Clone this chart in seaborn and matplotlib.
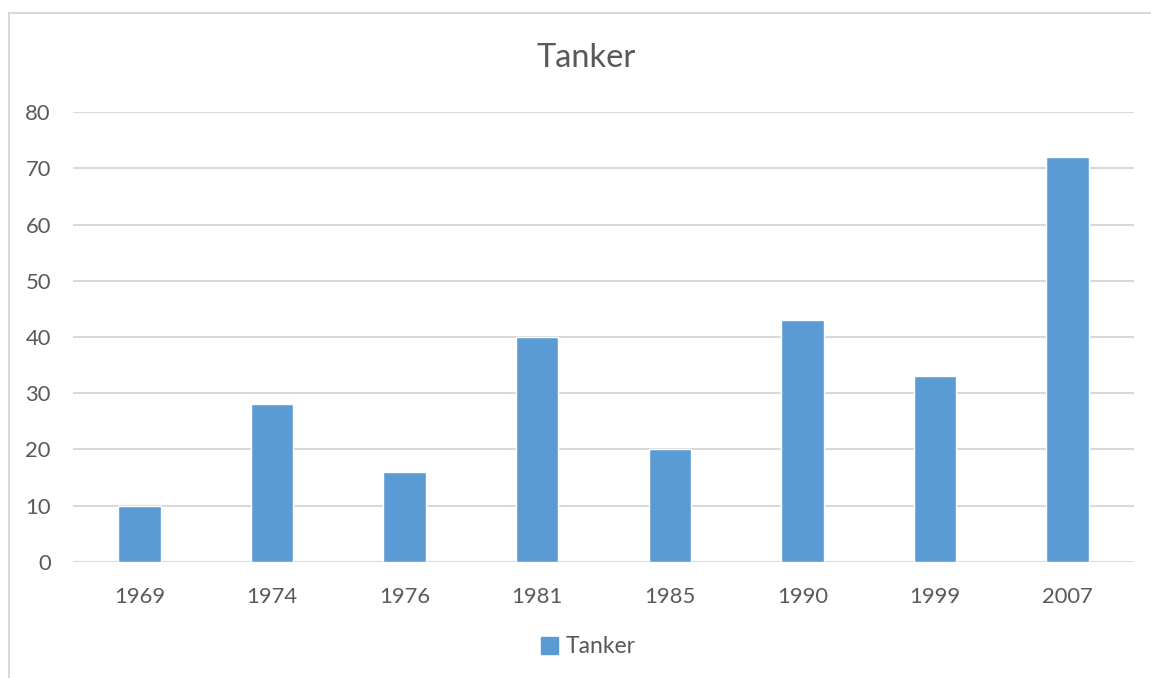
import pandas as pd
import matplotlib.pyplot as plt
import seaborn as sns
from matplotlib.patches import Rectangle, Patch

years = ['1969', '1974', '1976', '1981', '1985', '1990', '1999', '2007']
tanker = [10, 28, 16, 40, 20, 43, 33, 72]

df = pd.DataFrame({'Year': years, 'Tanker': tanker})

sns.set_style('white')
plt.rcParams['font.family'] = ['Lato', 'DejaVu Sans']
text_col = '#595959'
bar_col = '#5B9BD5'
grid_col = '#D9D9D9'

fig = plt.figure(figsize=(11.51, 6.78), dpi=100)
ax = fig.add_axes([0.0634, 0.1711, 0.9218, 0.6637])

sns.barplot(data=df, x='Year', y='Tanker', color=bar_col, saturation=1,
            width=0.32, ax=ax, zorder=3)

ax.set_ylim(0, 80)
ax.set_yticks(range(0, 81, 10))
ax.set_xlim(-0.5, len(years) - 0.5)
ax.yaxis.grid(True, color=grid_col, linewidth=1.5, zorder=0)
ax.set_axisbelow(True)
for s in ax.spines.values():
    s.set_visible(False)
ax.set_xlabel('')
ax.set_ylabel('')
ax.tick_params(axis='both', length=0, labelsize=15.8, labelcolor=text_col)
ax.tick_params(axis='y', pad=16)
ax.tick_params(axis='x', pad=18)

fig.text(0.509, 0.914, 'Tanker', ha='center', va='center', fontsize=23.5, color=text_col)

fig.legend(handles=[Patch(color=bar_col, label='Tanker')], loc='center',
           bbox_to_anchor=(0.511, 0.046), frameon=False, fontsize=16.5,
           labelcolor=text_col, handlelength=0.75, handleheight=0.75,
           handletextpad=0.3)

# chart border
fig.patches.append(Rectangle((9 / 1151, -0.05), 1.1, 1 - 13 / 678 + 0.05,
                             transform=fig.transFigure, fill=False,
                             edgecolor=grid_col, linewidth=1.5))

fig.savefig('out.png', dpi=100)
